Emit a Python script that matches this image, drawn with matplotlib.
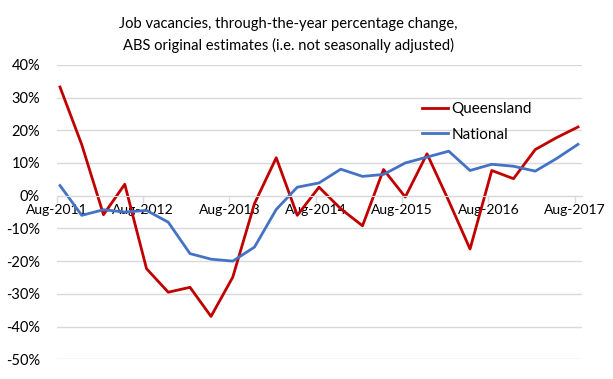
import pandas as pd
import matplotlib
matplotlib.use("Agg")
import matplotlib.pyplot as plt
import matplotlib.dates as mdates
from matplotlib.ticker import FuncFormatter

# quarterly, Aug-2011 .. Aug-2017 (through-the-year % change)
queensland = [33.2, 15.6, -5.8, 3.5, -22.3, -29.5, -28.0, -36.9, -24.9, -2.4,
              11.6, -6.0, 2.6, -4.0, -9.2, 8.0, -0.4, 12.8, -1.6, -16.3,
              7.7, 5.2, 14.1, 17.7, 21.0]
national = [3.1, -6.0, -4.3, -5.0, -4.5, -8.1, -17.7, -19.4, -20.0, -15.7,
            -4.2, 2.6, 3.9, 8.1, 5.9, 6.5, 10.0, 11.8, 13.6, 7.7,
            9.6, 9.0, 7.5, 11.3, 15.7]
tick_years = [2011, 2012, 2013, 2014, 2015, 2016, 2017]

plt.rcParams['font.family'] = ['Lato', 'DejaVu Sans']

months = pd.date_range("2011-08-01", periods=len(queensland), freq="3MS")
dates = months + pd.Timedelta(days=14)

fig = plt.figure(figsize=(6.13, 3.79), dpi=100)
ax = fig.add_axes([0.0925, 0.052, 0.857, 0.777])

ax.plot(dates, queensland, color="#C00000", lw=2, label="Queensland")
ax.plot(dates, national, color="#4472C4", lw=2, label="National")

ax.set_ylim(-50, 40)
ax.set_yticks(range(-50, 41, 10))
ax.yaxis.set_major_formatter(FuncFormatter(lambda v, p: f"{v:.0f}%"))
ax.set_xlim(pd.Timestamp("2011-08-01"), pd.Timestamp("2017-09-01"))
ax.set_xticks([pd.Timestamp(f"{y}-08-01") for y in tick_years])
ax.xaxis.set_major_formatter(mdates.DateFormatter("%b-%Y"))

ax.grid(axis="y", color="#d9d9d9", lw=1)
ax.set_axisbelow(True)
for s in ["left", "right", "top"]:
    ax.spines[s].set_visible(False)
ax.spines["bottom"].set_position(("data", 0))
ax.spines["bottom"].set_color("#d9d9d9")
ax.tick_params(axis="x", colors="#d9d9d9", length=5, width=1, labelcolor="black",
               labelsize=10, pad=1)
ax.tick_params(axis="y", length=0, labelsize=10.5, pad=12)

ax.legend(loc="upper left", bbox_to_anchor=(0.67, 0.92), frameon=False,
          fontsize=11, handlelength=1.7, handletextpad=0.2, labelspacing=0.75)

fig.text(0.47, 0.955, "Job vacancies, through-the-year percentage change,\n"
         "ABS original estimates (i.e. not seasonally adjusted)",
         ha="center", va="top", fontsize=10.6, linespacing=1.55)

fig.savefig("out.png", dpi=100)
